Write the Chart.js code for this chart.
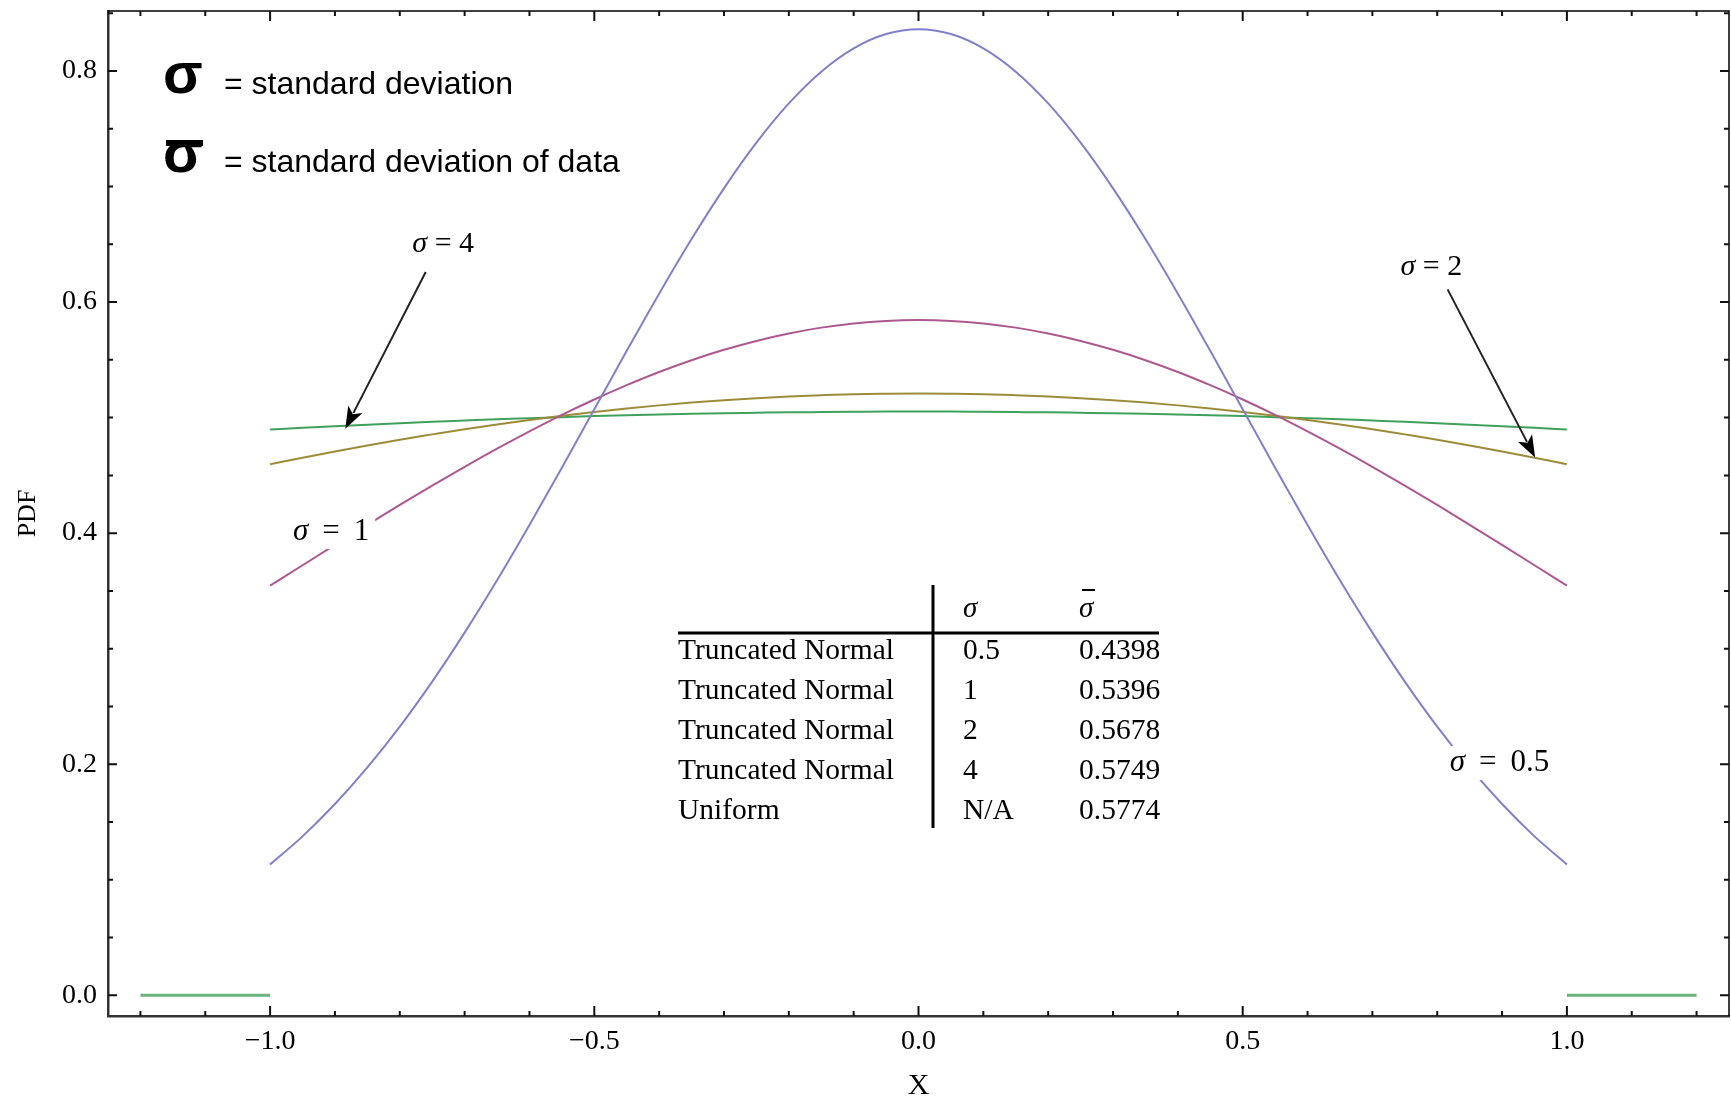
<!DOCTYPE html>
<html>
<head>
<meta charset="utf-8">
<script src="https://cdn.jsdelivr.net/npm/chart.js@4.4.1/dist/chart.umd.min.js"></script>
<style>
  html, body { margin: 0; padding: 0; background: #fff; }
  #wrap { width: 1731px; height: 1101px; }
</style>
</head>
<body>
<div id="wrap"><canvas id="pdf"></canvas></div>
<script>
'use strict';

// x grid of the curves
const xVals = [-1.00, -0.95, -0.90, -0.85, -0.80, -0.75, -0.70, -0.65, -0.60, -0.55, -0.50,
               -0.45, -0.40, -0.35, -0.30, -0.25, -0.20, -0.15, -0.10, -0.05,  0.00,
                0.05,  0.10,  0.15,  0.20,  0.25,  0.30,  0.35,  0.40,  0.45,  0.50,
                0.55,  0.60,  0.65,  0.70,  0.75,  0.80,  0.85,  0.90,  0.95,  1.00];

// PDF values
const pdfSigma05 = [0.1132, 0.1375, 0.1655, 0.1972, 0.2325, 0.2715, 0.3139, 0.3592, 0.4071, 0.4567, 0.5072,
                    0.5578, 0.6073, 0.6546, 0.6985, 0.7380, 0.7720, 0.7995, 0.8197, 0.8321, 0.8363,
                    0.8321, 0.8197, 0.7995, 0.7720, 0.7380, 0.6985, 0.6546, 0.6073, 0.5578, 0.5072,
                    0.4567, 0.4071, 0.3592, 0.3139, 0.2715, 0.2325, 0.1972, 0.1655, 0.1375, 0.1132];
const pdfSigma1  = [0.3545, 0.3722, 0.3898, 0.4072, 0.4244, 0.4411, 0.4574, 0.4731, 0.4881, 0.5024, 0.5157,
                    0.5281, 0.5395, 0.5497, 0.5587, 0.5664, 0.5728, 0.5779, 0.5815, 0.5837, 0.5844,
                    0.5837, 0.5815, 0.5779, 0.5728, 0.5664, 0.5587, 0.5497, 0.5395, 0.5281, 0.5157,
                    0.5024, 0.4881, 0.4731, 0.4574, 0.4411, 0.4244, 0.4072, 0.3898, 0.3722, 0.3545];
const pdfSigma2  = [0.4597, 0.4653, 0.4707, 0.4759, 0.4809, 0.4855, 0.4900, 0.4941, 0.4980, 0.5016, 0.5049,
                    0.5079, 0.5106, 0.5130, 0.5151, 0.5168, 0.5183, 0.5194, 0.5203, 0.5207, 0.5209,
                    0.5207, 0.5203, 0.5194, 0.5183, 0.5168, 0.5151, 0.5130, 0.5106, 0.5079, 0.5049,
                    0.5016, 0.4980, 0.4941, 0.4900, 0.4855, 0.4809, 0.4759, 0.4707, 0.4653, 0.4597];
const pdfSigma4  = [0.4897, 0.4912, 0.4926, 0.4939, 0.4952, 0.4964, 0.4975, 0.4986, 0.4995, 0.5004, 0.5013,
                    0.5020, 0.5027, 0.5033, 0.5038, 0.5042, 0.5046, 0.5048, 0.5050, 0.5052, 0.5052,
                    0.5052, 0.5050, 0.5048, 0.5046, 0.5042, 0.5038, 0.5033, 0.5027, 0.5020, 0.5013,
                    0.5004, 0.4995, 0.4986, 0.4975, 0.4964, 0.4952, 0.4939, 0.4926, 0.4912, 0.4897];

// zero outside the support
const tailX = [-1.2, -1.0, null, 1.0, 1.2];
const tailY = [0, 0, null, 0, 0];

// ticks
const xMajor = [-1.0, -0.5, 0.0, 0.5, 1.0];
const yMajor = [0.0, 0.2, 0.4, 0.6, 0.8];

// table inset
const tableNames   = ['Truncated Normal', 'Truncated Normal', 'Truncated Normal', 'Truncated Normal', 'Uniform'];
const tableSigma   = ['0.5', '1', '2', '4', 'N/A'];
const tableSigmaSd = ['0.4398', '0.5396', '0.5678', '0.5749', '0.5774'];

// curve labels
const curveLabels = ['4', '2', '1', '0.5'];

const SERIF = '"Liberation Serif", "Times New Roman", serif';
const SANS  = '"Liberation Sans", Arial, sans-serif';

const pts = ys => xVals.map((x, i) => ({ x, y: ys[i] }));

function fmtTick(v) {
  return v < 0 ? '\u2212' + Math.abs(v).toFixed(1) : v.toFixed(1);
}

// 라벨 위치 (데이터 좌표)
const labelPos = [
  { x: -0.733, y: 0.650, size: 30, gap: ' = ', bg: false },
  { x:  0.791, y: 0.630, size: 30, gap: ' = ', bg: false },
  { x: -0.906, y: 0.401, size: 31, gap: ' \u2009= \u2009', bg: true },
  { x:  0.896, y: 0.201, size: 31, gap: ' \u2009= \u2009', bg: true },
];
const arrows = [
  { x0: -0.760, y0: 0.626, x1: -0.884, y1: 0.4903 },
  { x0:  0.816, y0: 0.611, x1:  0.951, y1: 0.4655 },
];

function drawArrow(ctx, ax, ay, bx, by) {
  const ang = Math.atan2(by - ay, bx - ax);
  const hl = 22, hw = 8;
  ctx.save();
  ctx.strokeStyle = '#222';
  ctx.fillStyle = '#000';
  ctx.lineWidth = 2;
  ctx.beginPath();
  ctx.moveTo(ax, ay);
  ctx.lineTo(bx - Math.cos(ang) * hl * 0.8, by - Math.sin(ang) * hl * 0.8);
  ctx.stroke();
  ctx.beginPath();
  ctx.moveTo(bx, by);
  ctx.lineTo(bx - Math.cos(ang) * hl + Math.sin(ang) * hw, by - Math.sin(ang) * hl - Math.cos(ang) * hw);
  ctx.lineTo(bx - Math.cos(ang) * hl * 0.75, by - Math.sin(ang) * hl * 0.75);
  ctx.lineTo(bx - Math.cos(ang) * hl - Math.sin(ang) * hw, by - Math.sin(ang) * hl + Math.cos(ang) * hw);
  ctx.closePath();
  ctx.fill();
  ctx.restore();
}

// σ 이탤릭 + 나머지 정체
function drawSigmaText(ctx, rest, cx, cy, size, bg) {
  ctx.save();
  const fI = `italic ${size}px ${SERIF}`;
  const fR = `${size}px ${SERIF}`;
  ctx.font = fI;
  const w1 = ctx.measureText('\u03c3').width;
  ctx.font = fR;
  const w2 = ctx.measureText(rest).width;
  const x0 = cx - (w1 + w2) / 2;
  if (bg) {
    ctx.fillStyle = '#fff';
    ctx.fillRect(x0 - 6, cy - size * 0.55, w1 + w2 + 12, size * 1.1);
  }
  ctx.fillStyle = '#000';
  ctx.textBaseline = 'middle';
  ctx.textAlign = 'left';
  ctx.font = fI;
  ctx.fillText('\u03c3', x0, cy);
  ctx.font = fR;
  ctx.fillText(rest, x0 + w1, cy);
  ctx.restore();
}

const decorPlugin = {
  id: 'decor',
  afterDatasetsDraw(chart) {
    const { ctx, chartArea: ca, scales: { x, y } } = chart;

    // frame top/right
    ctx.save();
    ctx.strokeStyle = '#000';
    ctx.lineWidth = 1.5;
    ctx.beginPath();
    ctx.moveTo(ca.left, ca.top); ctx.lineTo(ca.right, ca.top); ctx.lineTo(ca.right, ca.bottom);
    ctx.stroke();

    // inward ticks on all four sides
    ctx.lineWidth = 2;
    ctx.strokeStyle = '#111';
    for (let i = -12; i <= 12; i++) {
      const v = i / 10;
      const px = x.getPixelForValue(v);
      const len = i % 5 === 0 ? 10 : 5;
      ctx.beginPath();
      ctx.moveTo(px, ca.bottom); ctx.lineTo(px, ca.bottom - len);
      ctx.moveTo(px, ca.top); ctx.lineTo(px, ca.top + len);
      ctx.stroke();
    }
    for (let i = 0; i <= 17; i++) {
      const v = i * 0.05;
      const py = y.getPixelForValue(v);
      const len = i % 4 === 0 ? 9 : 5;
      ctx.beginPath();
      ctx.moveTo(ca.left, py); ctx.lineTo(ca.left + len, py);
      ctx.moveTo(ca.right, py); ctx.lineTo(ca.right - len, py);
      ctx.stroke();
    }
    ctx.restore();

    // curve labels + arrows
    labelPos.forEach((p, i) => {
      const rest = p.gap + curveLabels[i];
      drawSigmaText(ctx, rest, x.getPixelForValue(p.x), y.getPixelForValue(p.y), p.size, p.bg);
    });
    arrows.forEach(a => drawArrow(ctx,
      x.getPixelForValue(a.x0), y.getPixelForValue(a.y0),
      x.getPixelForValue(a.x1), y.getPixelForValue(a.y1)));

    // legend text, top left
    ctx.save();
    ctx.fillStyle = '#000';
    ctx.textBaseline = 'alphabetic';
    ctx.textAlign = 'left';
    ctx.font = `bold 58px ${SANS}`;
    ctx.fillText('\u03c3', ca.left + 55, ca.top + 82);
    ctx.fillText('\u03c3', ca.left + 55, ca.top + 161);
    ctx.fillRect(ca.left + 58, ca.top + 129, 37, 6);
    ctx.font = `32px ${SANS}`;
    ctx.fillText('= standard deviation', ca.left + 116, ca.top + 83);
    ctx.fillText('= standard deviation of data', ca.left + 116, ca.top + 161);
    ctx.restore();

    // table inset
    ctx.save();
    const tl = ca.left + 570;
    const vx = ca.left + 825;
    const c2 = ca.left + 855;
    const c3 = ca.left + 971;
    const tr = ca.left + 1051;
    ctx.fillStyle = '#000';
    ctx.textBaseline = 'middle';
    ctx.textAlign = 'left';
    ctx.font = `italic 29px ${SERIF}`;
    ctx.fillText('\u03c3', c2, ca.top + 598);
    ctx.fillText('\u03c3', c3, ca.top + 598);
    ctx.fillRect(c3 + 3, ca.top + 578, 13, 2);
    ctx.font = `29.5px ${SERIF}`;
    tableNames.forEach((n, i) => {
      const ry = ca.top + 640 + i * 40;
      ctx.fillText(n, tl, ry);
      ctx.fillText(tableSigma[i], c2, ry);
      ctx.fillText(tableSigmaSd[i], c3, ry);
    });
    ctx.strokeStyle = '#000';
    ctx.lineWidth = 3;
    ctx.beginPath();
    ctx.moveTo(tl, ca.top + 622); ctx.lineTo(tr, ca.top + 622);
    ctx.moveTo(vx, ca.top + 574); ctx.lineTo(vx, ca.top + 817);
    ctx.stroke();
    ctx.restore();
  },
};

const lineDs = (data, color) => ({
  data,
  showLine: true,
  borderColor: color,
  borderWidth: 2,
  pointRadius: 0,
  fill: false,
  cubicInterpolationMode: 'monotone',
});

// 축 라벨로 인한 여백 제거
function noPad(s) {
  s.paddingTop = 0; s.paddingBottom = 0; s.paddingLeft = 0; s.paddingRight = 0;
}

new Chart(document.getElementById('pdf'), {
  type: 'scatter',
  data: {
    datasets: [
      lineDs(pts(pdfSigma05), '#8080ca'),
      lineDs(pts(pdfSigma1),  '#ae5890'),
      lineDs(pts(pdfSigma2),  '#9c8c3a'),
      lineDs(pts(pdfSigma4),  '#40a05c'),
      {
        data: tailX.map((x, i) => ({ x: x === null ? 0 : x, y: tailY[i] })),
        showLine: true,
        spanGaps: false,
        borderColor: '#6cb47e',
        borderWidth: 3,
        pointRadius: 0,
      },
    ],
  },
  options: {
    responsive: true,
    maintainAspectRatio: false,
    animation: false,
    layout: { padding: { top: 11, right: 2, left: 0, bottom: 0 } },
    plugins: { legend: { display: false }, tooltip: { enabled: false } },
    scales: {
      x: {
        type: 'linear',
        min: -1.25,
        max: 1.25,
        grid: { display: false, drawTicks: false },
        border: { display: true, color: '#333', width: 2.5 },
        afterBuildTicks: s => { s.ticks = xMajor.map(v => ({ value: v })); },
        afterFit: s => { s.height = 85; noPad(s); },
        ticks: {
          padding: 9,
          color: '#000',
          font: { family: SERIF, size: 28 },
          maxRotation: 0,
          callback: v => fmtTick(v),
        },
        title: {
          display: true,
          text: 'X',
          color: '#000',
          font: { family: SERIF, size: 30, lineHeight: 1 },
          padding: 0,
        },
      },
      y: {
        type: 'linear',
        min: -0.018,
        max: 0.852,
        grid: { display: false, drawTicks: false },
        border: { display: true, color: '#333', width: 2.5 },
        afterBuildTicks: s => { s.ticks = yMajor.map(v => ({ value: v })); },
        afterFit: s => { s.width = 108; noPad(s); },
        ticks: {
          padding: 11,
          color: '#000',
          font: { family: SERIF, size: 28 },
          callback: v => v.toFixed(1),
        },
        title: {
          display: true,
          text: 'PDF',
          color: '#000',
          font: { family: SERIF, size: 26, lineHeight: 1 },
          padding: { top: 15, bottom: 0 },
        },
      },
    },
  },
  plugins: [decorPlugin],
});
</script>
</body>
</html>
